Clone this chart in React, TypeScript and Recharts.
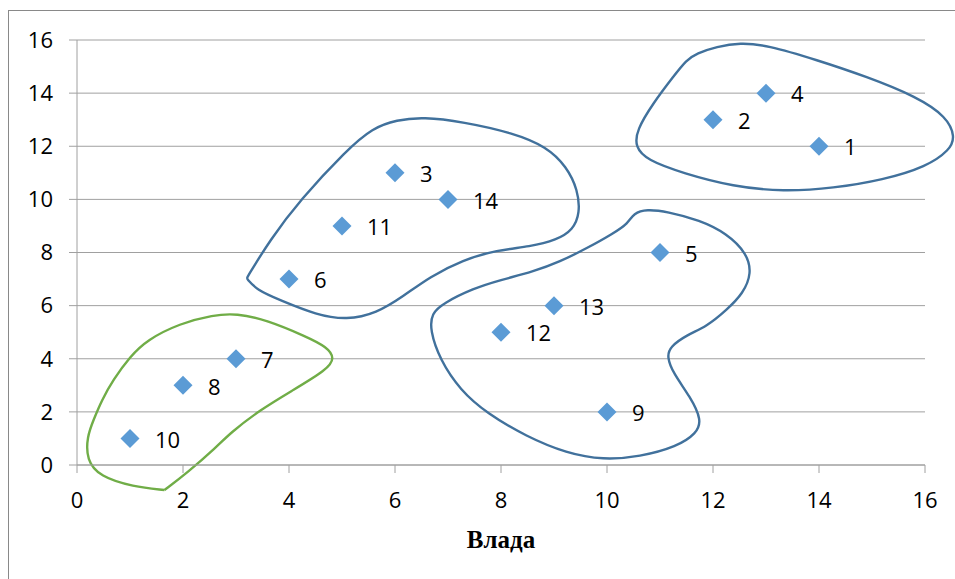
import React from 'react';
import { ComposedChart, Scatter, Line, XAxis, YAxis, CartesianGrid } from 'recharts';

// Respondents: position on the two scales and their number
const pointX = [14, 12, 6, 13, 11, 4, 3, 2, 10, 1, 5, 8, 9, 7];
const pointY = [12, 13, 11, 14, 8, 7, 4, 3, 2, 1, 9, 5, 6, 10];
const pointLabels = ['1', '2', '3', '4', '5', '6', '7', '8', '9', '10', '11', '12', '13', '14'];

const axisTicks = [0, 2, 4, 6, 8, 10, 12, 14, 16];

// Hand-drawn group outlines (closed B-spline control points)
const groupTopRight: [number, number][] = [
  [11.69, 15.5], [12.07, 15.75], [12.51, 15.9], [13.01, 15.81], [13.96, 15.25], [14.9, 14.62],
  [15.84, 13.87], [16.41, 13.11], [16.57, 12.36], [16.47, 11.86], [16.03, 11.23], [15.21, 10.73],
  [14.27, 10.42], [13.33, 10.29], [12.38, 10.48], [11.44, 10.98], [10.75, 11.48], [10.53, 11.98],
  [10.56, 12.61], [10.87, 13.62], [11.25, 14.62], [11.5, 15.25],
];

const groupMiddle: [number, number][] = [
  [3.2, 7.03], [3.2, 7.03], [3.64, 8.47], [4.21, 9.98], [5.09, 11.86], [5.58, 12.69], [6.03, 12.99],
  [6.53, 13.1], [7.28, 12.92], [8.23, 12.5], [8.86, 11.98], [9.24, 11.23], [9.45, 10.35],
  [9.49, 9.49], [9.36, 8.85], [9.05, 8.47], [8.55, 8.22], [7.92, 8.09], [7.28, 7.72], [6.66, 7.09],
  [6.15, 6.34], [5.65, 5.71], [5.09, 5.46], [4.52, 5.65], [3.83, 6.21], [3.39, 6.59],
];

const groupLowerRight: [number, number][] = [
  [10.5, 9.48], [10.75, 9.63], [11.13, 9.54], [11.75, 9.22], [12.26, 8.72], [12.64, 7.97],
  [12.73, 7.22], [12.57, 6.46], [12.26, 5.84], [11.88, 5.21], [11.5, 4.89], [11.19, 4.45],
  [11.13, 4.08], [11.25, 3.45], [11.57, 2.57], [11.79, 1.69], [11.69, 1.19], [11.32, 0.69],
  [10.62, 0.31], [9.93, 0.19], [9.24, 0.44], [8.48, 1.07], [7.73, 1.95], [7.23, 2.82],
  [6.85, 3.95], [6.66, 5.08], [6.69, 5.71], [6.91, 6.09], [7.48, 6.65], [7.98, 6.96],
  [8.61, 7.28], [9.11, 7.65], [9.62, 8.16], [10.12, 8.72], [10.4, 9.1],
];

const groupLowerLeft: [number, number][] = [
  [1.65, -0.94], [1.65, -0.94], [1.65, -0.94], [1.06, -0.82], [0.43, -0.44], [0.18, 0.19],
  [0.19, 1.07], [0.31, 1.69], [0.47, 2.45], [0.68, 3.2], [1.0, 4.08], [1.32, 4.71], [1.94, 5.33],
  [2.57, 5.65], [3.01, 5.71], [3.58, 5.46], [4.33, 4.83], [4.71, 4.45], [4.87, 4.02], [4.71, 3.58],
  [4.08, 2.82], [3.45, 2.07], [2.89, 1.2], [2.64, 0.69], [2.07, -0.31],
];

const points = pointX.map((x, i) => ({ x, y: pointY[i], label: pointLabels[i] }));
const toRows = (pts: [number, number][]) => pts.map(([x, y]) => ({ x, y }));

const FONT = '"Open Sans", sans-serif';
const GRID = '#a0a0a0';
const BLUE = '#41719c';

const Diamond = (props: any) => {
  const { cx, cy, payload } = props;
  const r = 9.5;
  return (
    <g>
      <polygon
        points={`${cx},${cy - r} ${cx + r},${cy} ${cx},${cy + r} ${cx - r},${cy}`}
        fill="#5b9bd5"
      />
      <text x={cx + 25} y={cy} dy="0.42em" fontSize={22} fontFamily={FONT} fill="#000">
        {payload.label}
      </text>
    </g>
  );
};

const outlines = [
  { key: 'tr', data: toRows(groupTopRight), color: BLUE },
  { key: 'mid', data: toRows(groupMiddle), color: BLUE },
  { key: 'lr', data: toRows(groupLowerRight), color: BLUE },
  { key: 'll', data: toRows(groupLowerLeft), color: '#70ad47' },
];

export default function App() {
  return (
    <div style={{ position: 'relative', width: 955, height: 579, overflow: 'hidden', background: '#fff' }}>
      <style>{`body { margin: 0; } .cluster-outline, .cluster-outline * { clip-path: none !important; }`}</style>
      <div
        style={{
          position: 'absolute',
          left: 8,
          top: 10,
          width: 1000,
          height: 1000,
          border: '1px solid #898989',
        }}
      />
      <div style={{ position: 'absolute', left: 0, top: 0 }}>
        <ComposedChart width={955} height={579} margin={{ top: 40, right: 30, left: 0, bottom: 24 }}>
          <CartesianGrid vertical={false} stroke={GRID} strokeWidth={1} />
          <XAxis
            type="number"
            dataKey="x"
            domain={[0, 16]}
            ticks={axisTicks}
            allowDataOverflow
            height={90}
            tickSize={8}
            tickMargin={19}
            stroke={GRID}
            tick={{ fontSize: 22, fontFamily: FONT, fill: '#000' }}
            label={{
              value: 'Влада',
              position: 'insideBottom',
              offset: 7,
              style: { fontFamily: '"Liberation Serif", serif', fontWeight: 'bold', fontSize: 25, fill: '#000' },
            }}
          />
          <YAxis
            type="number"
            dataKey="y"
            domain={[0, 16]}
            ticks={axisTicks}
            allowDataOverflow
            width={77}
            tickSize={8}
            tickMargin={16}
            stroke={GRID}
            tick={{ fontSize: 22, fontFamily: FONT, fill: '#000' }}
          />
          {outlines.map((o) => (
            <Line
              key={o.key}
              className="cluster-outline"
              data={o.data}
              dataKey="y"
              type="basisClosed"
              stroke={o.color}
              strokeWidth={2.4}
              dot={false}
              activeDot={false}
              isAnimationActive={false}
            />
          ))}
          <Scatter data={points} dataKey="y" shape={Diamond} isAnimationActive={false} />
        </ComposedChart>
      </div>
    </div>
  );
}
